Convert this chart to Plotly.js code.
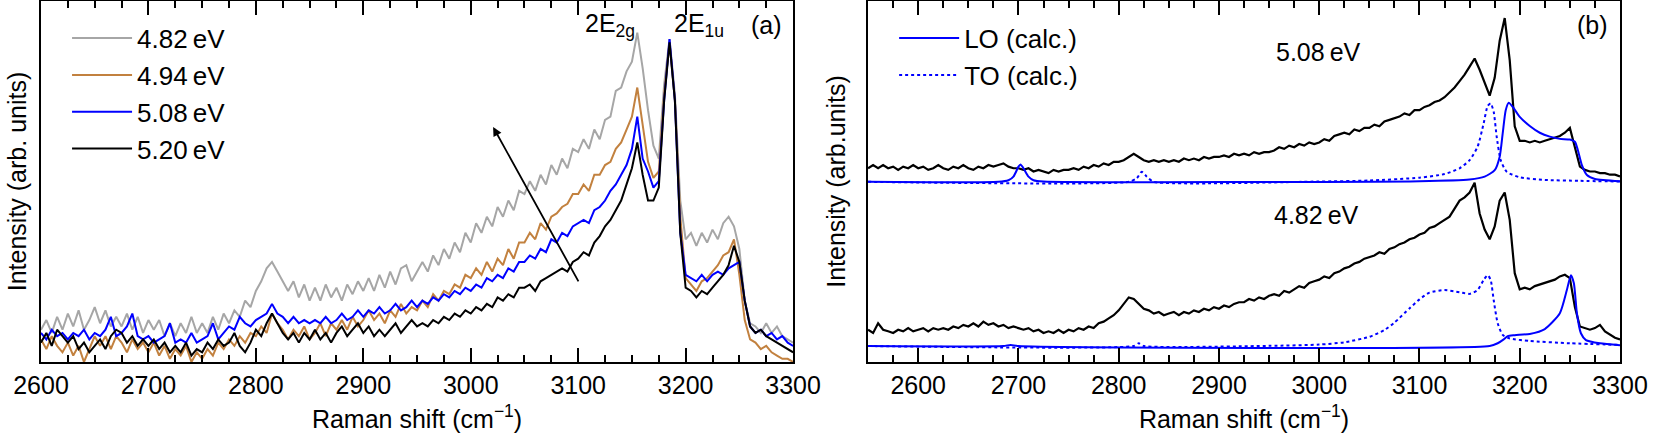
<!DOCTYPE html>
<html>
<head>
<meta charset="utf-8">
<script src="https://cdn.plot.ly/plotly-3.0.1.min.js"></script>
<style>
  html, body { margin: 0; padding: 0; background: #fff; }
  #chart { width: 1659px; height: 438px; }
</style>
</head>
<body>
<div id="chart"></div>
<script>
// panel (a): spectra for four excitation energies, sampled every 5 cm^-1 from 2600
const startA = 2600;
const stepA = 5;
const gray482 = [
    10,13,9,14,10,15,11,16,10,13,17,
    12,16,11,14,11,15,10,14,9,13,
    10,13,8,12,8,12,9,14,9,12,
    9,14,10,15,12,16,14,19,17,22,
    25,29,31,28,25,22,25,20,24,19,
    23,19,24,20,23,19,24,21,25,22,
    26,22,27,23,28,24,29,30,25,28,
    31,28,33,30,35,32,37,34,40,37,
    43,40,45,42,48,45,50,47,53,52,
    56,53,58,55,61,58,63,60,66,65,
    69,66,72,69,75,76,84,85,90,93,
    102,91,78,67,63,86,100,83,50,38,
    40,36,40,37,41,38,43,45,42,35,
    19,12,11,9,12,9,11,8,7,6
];
const brown494 = [
    7,4,8,5,3,6,2,5,0,4,8,
    5,8,4,8,6,3,7,4,6,3,
    6,2,5,1,4,2,5,0,3,1,
    4,2,6,4,7,5,8,6,9,8,
    11,9,15,12,10,7,10,8,11,7,
    9,12,8,12,10,13,10,14,11,13,
    16,13,15,12,16,14,18,15,17,16,
    19,17,21,19,22,21,24,23,27,26,
    29,27,31,28,32,30,35,32,37,37,
    40,38,43,41,45,46,48,49,52,52,
    55,53,58,58,61,62,66,68,72,76,
    85,73,62,57,59,83,99,81,45,26,
    24,22,25,26,28,30,33,34,38,27,
    13,7,6,4,5,3,2,1,1,0
];
const blue508 = [
    9,7,10,8,9,7,9,8,10,7,9,
    8,10,14,8,9,11,15,8,7,8,
    6,7,8,12,6,7,6,9,6,7,
    8,12,7,9,11,10,14,12,11,13,
    14,15,18,15,14,12,14,12,13,12,
    13,12,14,12,13,15,13,14,16,14,
    16,15,17,15,16,18,16,17,19,17,
    19,18,20,19,21,20,22,21,23,22,
    24,23,26,25,27,26,29,28,31,31,
    33,32,35,34,38,37,40,39,42,43,
    44,43,47,48,50,53,55,58,61,66,
    76,63,59,54,56,81,100,81,40,27,
    26,25,27,25,27,28,27,29,30,31,
    19,11,9,10,8,9,7,8,6,5
];
const black520 = [
    6,9,5,10,8,6,8,4,6,3,5,
    7,4,8,10,9,6,8,5,7,5,
    7,4,6,3,5,3,6,2,4,3,
    6,4,7,5,6,9,5,3,6,10,
    8,12,15,12,9,7,9,6,9,7,
    10,7,9,6,9,11,8,10,12,9,
    11,8,10,8,10,12,9,11,13,11,
    12,11,13,12,14,13,15,14,16,15,
    17,16,18,17,20,19,21,20,23,23,
    24,22,25,26,27,28,29,28,31,32,
    34,33,37,39,42,44,47,50,55,60,
    68,58,50,50,54,81,99,81,40,23,
    22,20,22,21,23,25,27,30,36,31,
    19,11,9,10,8,7,6,5,4,3
];
const labelsA = ["4.82\u2009eV", "4.94\u2009eV", "5.08\u2009eV", "5.20\u2009eV"];
const colorsA = ["#a6a6a6", "#c2813f", "#0000ff", "#000000"];

// panel (b): measured spectra (offset) every 5 cm^-1 from 2550
const startB = 2550;
const stepB = 5;
const meas508 = [
    60,61,60,61,60,60.5,59.5,60.5,60,61,60,
    60.5,59.5,60,61,60,59.5,60.5,60,61,60,
    59.5,60.5,60,61,60.5,61,61.5,60.5,60,60,
    59.5,60,59,59.5,59,58.5,59.5,59,59.5,59.5,
    60,59.5,60.5,60,61,60.5,61.5,61,62,62,
    62.5,63.5,64.5,63.5,62.5,62,62.5,62,62.5,62,
    62.5,62,63,62.5,63,62.5,63.5,63,63.5,63.5,
    64,63.5,64.5,64,64.5,64,65,64.5,65,65,
    65.5,66.5,66,67,66.5,67.5,67,68,67.5,68,
    69,68.5,70,70.5,71,70.5,72,71.5,72.5,72.5,
    73.5,73,74.5,75,75.5,76,77,76.5,78,78,
    79,79.5,80.5,81,82,83.5,85,87,89,91.5,
    94,90.5,86.5,82.5,88,99.5,106.5,93.5,73,68.5,
    68.5,68,68.5,68,68.5,69,69.5,70,71,72.5,
    66.5,60.5,59.5,59,59,58.5,58.5,58,58,57.5
];
const meas482 = [
    10,9,12,10,9.5,9,10,9.5,10.5,9.5,10,
    10.5,9.5,10.5,10,10.5,10,11,10.5,11.5,11,
    12,11,12.5,11.5,12,11,11.5,10.5,11,10.5,
    10,10.5,9.5,10,9,9.5,9,10,9,10,
    9.5,10.5,10,11,10.5,12,12.5,13.5,14.5,16,
    18,20,19.5,18,16.5,16,15,15.5,14.5,15,
    15.5,14.5,15.5,15,16,15.5,16.5,16,17,16.5,
    17.5,17,18,18.5,18.5,19.5,19,20,19.5,20.5,
    21,20.5,22,21.5,22.5,23.5,23,24.5,25,25.5,
    26.5,26,27.5,28,29,29.5,30.5,31,32,32.5,
    33,34,33.5,35,35.5,36.5,37,38,38.5,39.5,
    40,41.5,42,43,44,45,47.5,50,51,52.5,
    55.5,46,41,38,42,50,52.5,44,27.5,22.5,
    23,22.5,23.5,24,24.5,25,25.5,26.5,27,26,
    17,11,10.5,10,10.5,11.5,9.5,8.5,7.5,7
];

// calculated LO / TO curves
const loUpX = [2550,2680,2690,2695,2700,2702,2705,2710,2715,2725,3100,3150,3165,3175,3180,3183,3186,3189,3193,3200,3210,3220,3230,3240,3250,3255,3258,3262,3267,3275,3300];
const loUpY = [55.8,55.8,56.3,57.4,60.5,61.2,60.0,57.4,56.3,55.9,56.0,56.5,57.4,59.4,63.6,70.8,78.0,80.3,79.0,75.9,73.1,71.0,69.8,69.1,68.9,68.2,65.6,61.0,57.9,56.7,56.0];
const toUpX = [2550,2810,2818,2823,2828,2835,3000,3050,3100,3125,3140,3150,3158,3164,3168,3171,3174,3177,3181,3187,3200,3225,3260,3300];
const toUpY = [55.8,55.8,56.9,58.9,57.4,55.8,55.9,56.2,57.1,58.2,60.0,62.5,66.7,73.9,79.3,80.1,77.5,69.8,62.5,58.9,57.2,56.4,56.1,55.9];
const loLowX = [2550,2685,2692,2700,3170,3178,3184,3188,3195,3210,3225,3240,3247,3251,3254,3257,3261,3266,3280,3300];
const loLowY = [4.95,4.95,5.3,4.95,4.95,5.8,7.0,8.0,8.3,8.7,10.2,15.1,22.3,26.9,24.4,15.1,8.9,6.8,5.8,5.2];
const toLowX = [2550,2815,2820,2825,2950,3000,3025,3050,3065,3075,3090,3100,3110,3125,3140,3150,3158,3164,3168,3171,3174,3178,3183,3190,3210,3250,3300];
const toLowY = [4.95,4.95,5.8,4.95,5.0,5.4,6.1,7.8,9.9,12.2,16.6,19.4,21.5,22.3,21.6,21.1,22.3,25.4,26.9,25.4,19.2,12.0,8.4,7.3,6.5,5.8,5.3];

const xA = gray482.map((_, i) => startA + stepA * i);
const xB = meas508.map((_, i) => startB + stepB * i);

const FONT = "Liberation Sans, Arial, sans-serif";
let traces = [];
[gray482, brown494, blue508, black520].forEach((ys, i) => {
    traces.push({
        x: xA, y: ys, xaxis: "x", yaxis: "y",
        mode: "lines", name: labelsA[i], legend: "legend",
        line: {color: colorsA[i], width: 2}
    });
});
[meas508, meas482].forEach(ys => {
    traces.push({
        x: xB, y: ys, xaxis: "x2", yaxis: "y2",
        mode: "lines", showlegend: false,
        line: {color: "black", width: 2.2}
    });
});
traces.push({x: loUpX, y: loUpY, xaxis: "x2", yaxis: "y2", mode: "lines", name: "LO (calc.)", legend: "legend2",
    line: {color: "#0000ff", width: 2, shape: "spline", smoothing: 0.6}});
traces.push({x: toUpX, y: toUpY, xaxis: "x2", yaxis: "y2", mode: "lines", name: "TO (calc.)", legend: "legend2",
    line: {color: "#0000ff", width: 2, dash: "dot", shape: "spline", smoothing: 0.6}});
traces.push({x: loLowX, y: loLowY, xaxis: "x2", yaxis: "y2", mode: "lines", showlegend: false,
    line: {color: "#0000ff", width: 2, shape: "spline", smoothing: 0.6}});
traces.push({x: toLowX, y: toLowY, xaxis: "x2", yaxis: "y2", mode: "lines", showlegend: false,
    line: {color: "#0000ff", width: 2, dash: "dot", shape: "spline", smoothing: 0.6}});

function xAxis(domain, range, anchor) {
    return {
        domain: domain, range: range, anchor: anchor,
        tick0: 0, dtick: 100, ticks: "inside", ticklen: 14, tickwidth: 2, tickcolor: "black",
        minor: {dtick: 25, ticks: "inside", ticklen: 7, tickwidth: 2, tickcolor: "black"},
        showline: true, linewidth: 2, linecolor: "black", mirror: "ticks",
        showgrid: false, zeroline: false,
        tickfont: {family: FONT, size: 25},
        title: {text: "Raman shift (cm<sup>\u22121</sup>)", font: {family: FONT, size: 25}, standoff: 12}
    };
}
function yAxis(anchor, text, standoff) {
    return {
        domain: [0, 1], range: [0, 111.8], anchor: anchor,
        showticklabels: false, ticks: "", showgrid: false, zeroline: false,
        showline: true, linewidth: 2, linecolor: "black", mirror: true,
        automargin: true,
        title: {text: text, font: {family: FONT, size: 25}, standoff: standoff}
    };
}

const layout = {
    width: 1659, height: 438,
    margin: {l: 41, r: 39, t: 1, b: 76},
    paper_bgcolor: "white", plot_bgcolor: "white",
    font: {family: FONT, size: 25, color: "black"},
    xaxis: xAxis([0, 0.4763], [2600, 3300], "y"),
    yaxis: yAxis("x", "Intensity (arb. units)", 5),
    xaxis2: xAxis([0.5238, 1], [2550, 3300], "y2"),
    yaxis2: yAxis("x2", "Intensity (arb.units)", 13),
    legend: {x: 0.0165, y: 0.962, xanchor: "left", yanchor: "top", bgcolor: "rgba(0,0,0,0)",
        font: {family: FONT, size: 26}, itemwidth: 60},
    legend2: {x: 0.5403, y: 0.962, xanchor: "left", yanchor: "top", bgcolor: "rgba(0,0,0,0)",
        font: {family: FONT, size: 26}, itemwidth: 60},
    annotations: [
        {xref: "x", yref: "y", x: 3130, y: 104.3, text: "2E<sub>2g</sub>", showarrow: false},
        {xref: "x", yref: "y", x: 3212.6, y: 104.3, text: "2E<sub>1u</sub>", showarrow: false},
        {xref: "x", yref: "y", x: 3275.6, y: 104.3, text: "(a)", showarrow: false},
        {xref: "x2", yref: "y2", x: 3272.3, y: 104.3, text: "(b)", showarrow: false},
        {xref: "x2", yref: "y2", x: 2999.6, y: 96.0, text: "5.08\u2009eV", showarrow: false},
        {xref: "x2", yref: "y2", x: 2997.7, y: 45.5, text: "4.82\u2009eV", showarrow: false},
        {xref: "x", yref: "y", axref: "x", ayref: "y", x: 3020.8, y: 72.8, ax: 3101, ay: 24.5,
            text: "", showarrow: true, arrowhead: 2, arrowsize: 1, arrowwidth: 1.8, arrowcolor: "black"}
    ]
};

Plotly.newPlot("chart", traces, layout, {displayModeBar: false, staticPlot: true});
</script>
</body>
</html>
